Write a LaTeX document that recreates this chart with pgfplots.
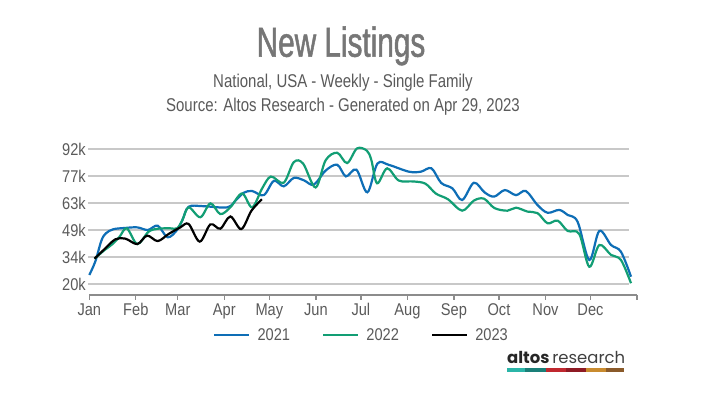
\documentclass[border=0pt]{standalone}
\usepackage{fontspec}
\usepackage{pgfplots}
\pgfplotsset{compat=1.18}
\setmainfont{Liberation Sans}[FakeStretch=0.86]
\newfontfamily\titlefont{Liberation Sans}[FakeStretch=0.71, FakeBold=1.2]
\newfontfamily\subfont{Liberation Sans}[FakeStretch=0.81]
\newfontfamily\logofont{Poppins}
\definecolor{c2021}{RGB}{14,110,182}
\definecolor{c2022}{RGB}{18,158,116}
\definecolor{titlegray}{RGB}{118,118,118}
\definecolor{subgray}{RGB}{90,90,90}
\definecolor{gridgray}{RGB}{200,200,200}
\definecolor{axisgray}{RGB}{140,140,140}
\definecolor{lg1}{RGB}{43,181,168}
\definecolor{lg2}{RGB}{26,127,120}
\definecolor{lg3}{RGB}{192,40,47}
\definecolor{lg4}{RGB}{142,26,36}
\definecolor{lg5}{RGB}{201,139,47}
\definecolor{lg6}{RGB}{138,90,42}
\begin{document}
\begin{tikzpicture}
\useasboundingbox (0pt,0pt) rectangle (708pt,398pt);
\fill[white] (0pt,0pt) rectangle (708pt,398pt);
\node[font=\titlefont\fontsize{41.9}{44}\selectfont, text=titlegray, anchor=base, inner sep=0pt] at (341pt,341.3pt) {New Listings};
\node[font=\subfont\fontsize{18.5}{20}\selectfont, text=subgray, anchor=base, inner sep=0pt] at (343pt,310pt) {National, USA - Weekly - Single Family};
\node[font=\subfont\fontsize{18.5}{20}\selectfont, text=subgray, anchor=base, inner sep=0pt] at (343pt,286pt) {Source: Altos Research - Generated on Apr 29, 2023};
\begin{axis}[
  at={(89.3pt,103pt)}, anchor=south west,
  scale only axis, width=547.7pt, height=155pt,
  xmin=0, xmax=365, ymin=14.13, ymax=96.8,
  clip=false,
  axis x line*=bottom, axis y line*=left,
  y axis line style={draw=none},
  x axis line style={draw=axisgray, line width=1.3pt},
  xtick={0,31,59,90,120,151,181,212,243,273,304,334,365},
  xticklabels={Jan,Feb,Mar,Apr,May,Jun,Jul,Aug,Sep,Oct,Nov,Dec,{}},
  xtick style={draw=axisgray, line width=1.3pt},
  xtick align=outside, major tick length=5pt,
  ytick={20,34.4,48.8,63.2,77.6,92},
  yticklabels={20k,34k,49k,63k,77k,92k},
  ytick style={draw=none},
  ticklabel style={font=\fontsize{17}{18}\selectfont, text=subgray},
  legend columns=3,
  legend style={at={(0.497,-0.258)}, anchor=center, draw=none, fill=none,
    font=\fontsize{17}{18}\selectfont, text=subgray,
    /tikz/every even column/.append style={column sep=30pt}},
  legend image code/.code={\draw[#1, line width=2.5pt] (0pt,0pt) -- (35pt,0pt); \path (40pt,0pt);},
]
\pgfplotsinvokeforeach{20,34.4,48.8,63.2,77.6,92}{
  \draw[gridgray, line width=1.4pt] (axis cs:-0.7,#1) -- (axis cs:359.5,#1);
}
\addplot[c2021, line width=2.2pt, smooth, tension=0.55] coordinates {
(0,24.8) (4,32) (8,43) (11,47) (16,49.2) (24,49.9) (32,50.2) (39,48.8) (45.6,51.1)
(52.2,44.9) (58.5,48.8) (62,54) (66.2,61.2) (76,61.5) (92,60.9) (98,65) (103,68.7)
(108.5,69.6) (116.3,67.4) (123,75.0) (129.6,72.1) (136.3,76.6) (143,75.3) (149.6,73.0)
(157.5,80.5) (165.2,83.6) (171,77.4) (178,81.0) (185.3,68.9) (192,84.2) (199.7,83.5)
(213,79.9) (221,79.9) (228,81.7) (234.5,73.9) (242,71.0) (248.5,64.8) (256.3,74.0)
(263.5,68.8) (269.8,66.6) (276.9,70.1) (284.3,67.4) (290.9,69.6) (298.7,62.1)
(305.4,58.0) (313.2,59.5) (318.8,56.8) (325.4,53.2) (333.2,32.8) (339.9,48.3)
(347.7,40.8) (354.3,37.2) (361,23.9)
};
\addlegendentry{2021}
\addplot[c2022, line width=2.2pt, smooth, tension=0.55] coordinates {
(3.5,33.5) (10,38) (15,41) (20,45) (25,49.7) (32,41.3) (39.5,47.9) (46,49.5) (54,49.7)
(58.5,49.7) (62,54) (66.2,60.9) (74,55.6) (80.7,63.0) (87.3,57.3) (94,60.9)
(101.8,68.3) (108.5,60.9) (115.2,71) (121,77.3) (129.5,74.0) (136.3,85.0) (142.5,84.2)
(150.8,71.5) (157.5,86.0) (165.2,90.0) (171.8,84.5) (178.4,92.3) (185,91.1) (188,86)
(191.8,73.7) (198.5,81.7) (206.2,75.2) (216,74.7) (224,73.5) (231,68.2) (239,65.2)
(248.5,59.1) (256.3,64.5) (263,65.5) (270,60.5) (278.7,59.1) (284.3,60.7) (292.1,58.6)
(298.7,57.8) (305.4,52.4) (312.1,53.8) (318.8,48.3) (326.5,46.7) (333.2,29.2)
(339.9,40.8) (347.7,35.5) (354.3,32.8) (361,20.4)
};
\addlegendentry{2022}
\addplot[black, line width=2.2pt, smooth, tension=0.55] coordinates {
(3.5,33.5) (10,38.5) (17.3,43.8) (24,44.2) (32,41.3) (38.5,45.8) (45.6,42.9)
(52.9,46.7) (60.7,50.2) (66.2,52) (73.6,42.6) (80.7,51.8) (87.3,49.5) (94,56.0)
(101.3,49.3) (108,59.0) (115,65.2)
};
\addlegendentry{2023}
\end{axis}
\node[anchor=base west, inner sep=0pt, text=black!85] at (507pt,34pt) {\resizebox{118pt}{!}{\logofont\fontsize{17}{18}\selectfont\textbf{altos}\,\color{black!75}research}};
\fill[lg1] (507.3pt,26.3pt) rectangle (525pt,30.3pt);
\fill[lg2] (525pt,26.3pt) rectangle (546pt,30.3pt);
\fill[lg3] (546pt,26.3pt) rectangle (565.7pt,30.3pt);
\fill[lg4] (565.7pt,26.3pt) rectangle (586pt,30.3pt);
\fill[lg5] (586pt,26.3pt) rectangle (606pt,30.3pt);
\fill[lg6] (606pt,26.3pt) rectangle (624.3pt,30.3pt);
\end{tikzpicture}
\end{document}
